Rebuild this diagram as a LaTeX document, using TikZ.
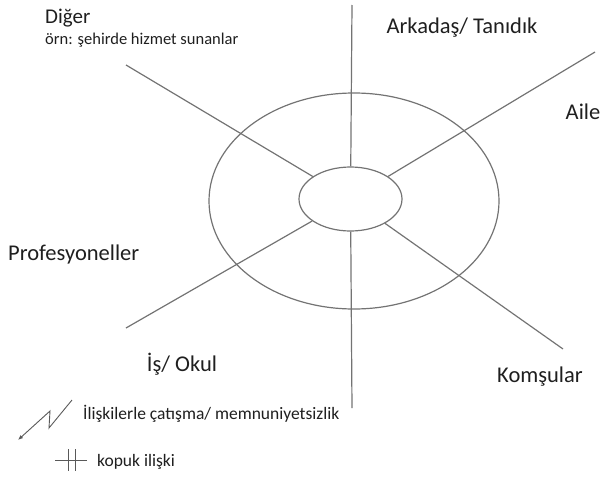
\documentclass[tikz,border=0pt]{standalone}
\usepackage{fontspec}
\setmainfont{Carlito}
\usepackage{tikz}
\usetikzlibrary{positioning,shapes.geometric,arrows.meta}

\begin{document}
\begin{tikzpicture}[x=1pt,y=-1pt,
    ring/.style={draw=black!55, line width=1.2pt, ellipse, inner sep=0pt},
    spoke/.style={draw=black!55, line width=1.2pt},
    lbl/.style={font=\fontsize{22.5}{26}\selectfont, text=black!88, inner sep=0pt},
    small/.style={font=\fontsize{17.5}{21}\selectfont, text=black!88, inner sep=0pt}]
    \useasboundingbox (0,0) rectangle (603,482);
    % circles
    \node[ring, minimum width=290pt, minimum height=216pt] (outer) at (354,201) {};
    \node[ring, minimum width=103pt, minimum height=64pt] (inner) at (350.5,199) {};
    % spoke ends
    \coordinate (top) at (352,5);
    \coordinate (bottom) at (352,408);
    \coordinate (ul) at (126,65);
    \coordinate (ur) at (595,52);
    \coordinate (ll) at (126,328);
    \coordinate (lr) at (563,349);
    \foreach \e in {top,bottom,ul,ur,ll,lr}
      \draw[spoke] (inner) -- (\e);
    % labels
    \node[lbl, font=\fontsize{21}{25}\selectfont, anchor=west] (diger) at (45,18) {Diğer};
    \node[small, font=\fontsize{16.5}{20}\selectfont, anchor=west] (ornek) at (45,40) {örn: şehirde hizmet sunanlar};
    \node[lbl] (arkadas) at (462,28) {Arkadaş/ Tanıdık};
    \node[lbl] (aile) at (583,112) {Aile};
    \node[lbl, anchor=west] (prof) at (8,254) {Profesyoneller};
    \node[lbl] (isokul) at (182,364) {İş/ Okul};
    \node[lbl] (komsu) at (540,377) {Komşular};
    % legend
    \draw[draw=black!65, line width=0.9pt, -{Latex[length=5pt,width=4pt]}]
      (72,400) -- (49,428) -- (50,411) -- (18,440);
    \node[small, anchor=west] (catisma) at (83,414) {İlişkilerle çatışma/ memnuniyetsizlik};
    \draw[draw=black!65, line width=0.9pt] (55,460) -- (87,460);
    \draw[draw=black!65, line width=0.9pt] (68,449) -- (68,471);
    \draw[draw=black!65, line width=0.9pt] (75,449) -- (75,471);
    \node[small, anchor=west] (kopuk) at (97,462) {kopuk ilişki};
\end{tikzpicture}
\end{document}
